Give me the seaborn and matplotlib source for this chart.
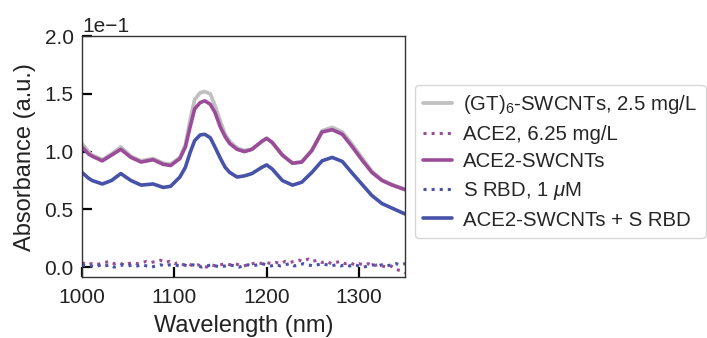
import numpy as np
import pandas as pd
import matplotlib
matplotlib.use("Agg")
import matplotlib.pyplot as plt
import seaborn as sns

# ---- data (absorbance, a.u.) ----
wl_solid = [1000, 1007, 1011, 1022, 1032, 1042, 1053, 1064, 1077, 1088, 1096, 1106,
            1112, 1117, 1122, 1128, 1133, 1139, 1144, 1150, 1155, 1160, 1168, 1176,
            1184, 1195, 1200, 1206, 1217, 1228, 1238, 1249, 1260, 1271, 1282, 1292,
            1303, 1314, 1325, 1336, 1350]

gt_swcnt = [0.107, 0.100, 0.097, 0.093, 0.098, 0.104, 0.096, 0.092, 0.094, 0.090, 0.089, 0.095,
            0.106, 0.127, 0.145, 0.151, 0.152, 0.150, 0.140, 0.126, 0.115, 0.109, 0.103, 0.101,
            0.102, 0.109, 0.1115, 0.108, 0.097, 0.090, 0.091, 0.101, 0.118, 0.121, 0.117, 0.107,
            0.095, 0.083, 0.0755, 0.0715, 0.0675]

ace2_swcnt = [0.104, 0.098, 0.096, 0.092, 0.097, 0.102, 0.095, 0.091, 0.093, 0.089, 0.088, 0.094,
              0.104, 0.121, 0.137, 0.1425, 0.144, 0.141, 0.134, 0.121, 0.113, 0.107, 0.102, 0.100,
              0.102, 0.109, 0.1115, 0.108, 0.097, 0.090, 0.091, 0.101, 0.117, 0.119, 0.115, 0.105,
              0.093, 0.082, 0.075, 0.071, 0.067]

ace2_swcnt_rbd = [0.082, 0.077, 0.075, 0.072, 0.075, 0.081, 0.075, 0.071, 0.072, 0.069, 0.070, 0.078,
                  0.0865, 0.099, 0.1095, 0.1145, 0.115, 0.112, 0.104, 0.094, 0.0865, 0.082, 0.078, 0.079,
                  0.081, 0.0865, 0.0885, 0.085, 0.075, 0.071, 0.0735, 0.082, 0.092, 0.095, 0.0915, 0.082,
                  0.072, 0.062, 0.055, 0.051, 0.046]

wl_dot = list(range(1000, 1351, 5))

ace2_only = [0.004, 0.002, 0.003, 0.002, 0.003, 0.004, 0.005, 0.003, 0.004, 0.002,
             0.003, 0.004, 0.003, 0.004, 0.005, 0.004, 0.005, 0.006, 0.004, 0.005,
             0.003, 0.004, 0.002, 0.003, 0.001, 0.002, 0.001, 0.000, 0.002, 0.001,
             0.002, 0.003, 0.002, 0.003, 0.002, 0.001, 0.002, 0.003, 0.004, 0.003,
             0.004, 0.003, 0.004, 0.003, 0.005, 0.004, 0.005, 0.006, 0.005, 0.007,
             0.005, 0.006, 0.004, 0.005, 0.003, 0.004, 0.005, 0.003, 0.004, 0.002,
             0.003, 0.002, 0.003, 0.001, 0.002, 0.001, 0.000, 0.001, -0.002, -0.003,
             -0.005]

srbd_only = [0.002, 0.001, 0.001, 0.000, 0.002, 0.001, 0.002, 0.000, 0.001, 0.002,
             0.001, 0.002, 0.001, 0.002, 0.001, 0.000, 0.001, 0.002, 0.001, 0.002,
             0.002, 0.001, 0.002, 0.001, 0.002, 0.001, 0.000, 0.001, 0.002, 0.001,
             0.000, 0.001, 0.002, 0.001, 0.000, 0.001, 0.002, 0.001, 0.002, 0.003,
             0.002, 0.001, 0.002, 0.001, 0.002, 0.003, 0.001, 0.002, 0.003, 0.002,
             0.001, 0.002, 0.003, 0.002, 0.001, 0.002, 0.001, 0.002, 0.001, 0.002,
             0.001, 0.000, 0.001, 0.002, 0.001, 0.002, 0.001, 0.002, 0.003, 0.002,
             0.003]

labels = ["(GT)$_6$-SWCNTs, 2.5 mg/L", "ACE2, 6.25 mg/L", "ACE2-SWCNTs",
          "S RBD, 1 $\\mu$M", "ACE2-SWCNTs + S RBD"]

# ---- style ----
sns.set_theme(style="ticks")
plt.rcParams["font.family"] = ["Liberation Sans", "DejaVu Sans"]
plt.rcParams["mathtext.fontset"] = "custom"
plt.rcParams["mathtext.rm"] = "Liberation Sans"
plt.rcParams["mathtext.it"] = "Liberation Sans:italic"
plt.rcParams["axes.unicode_minus"] = True

gray = "#c0c0c0"
purple = "#9b4c98"
blue = "#4653a8"

fig = plt.figure(figsize=(7.07, 3.38), dpi=100)
ax = fig.add_axes([0.116, 0.180, 0.457, 0.713])

sns.lineplot(x=wl_solid, y=gt_swcnt, ax=ax, color=gray, lw=2.7, label=labels[0])
sns.lineplot(x=wl_dot, y=ace2_only, ax=ax, color=purple, lw=2.2, linestyle=":", label=labels[1])
sns.lineplot(x=wl_solid, y=ace2_swcnt, ax=ax, color=purple, lw=2.6, label=labels[2])
sns.lineplot(x=wl_dot, y=srbd_only, ax=ax, color=blue, lw=2.2, linestyle=":", label=labels[3])
sns.lineplot(x=wl_solid, y=ace2_swcnt_rbd, ax=ax, color=blue, lw=2.6, label=labels[4])

ax.set_xlim(1000, 1350)
ax.set_ylim(-0.0087, 0.2)
ax.set_xticks([1000, 1100, 1200, 1300])
ax.set_yticks([0.0, 0.05, 0.10, 0.15, 0.20])
ax.ticklabel_format(axis="y", style="sci", scilimits=(0, 0))
ax.yaxis.get_offset_text().set_fontsize(15)
ax.yaxis.get_offset_text().set_color("#222222")

ax.tick_params(axis="both", direction="in", length=7.5, width=1.6, colors="black",
               labelsize=15, pad=6, labelcolor="#222222")
ax.tick_params(axis="x", pad=8)
for s in ax.spines.values():
    s.set_color("#333333")
    s.set_linewidth(1.0)

ax.set_xlabel("Wavelength (nm)", fontsize=17, labelpad=5.5, color="#222222")
ax.set_ylabel("Absorbance (a.u.)", fontsize=17, labelpad=6, color="#222222")

leg = ax.legend(loc="center left", bbox_to_anchor=(1.0, 0.48), borderaxespad=0.5,
                fontsize=14.7, handlelength=1.4, handletextpad=0.55, labelspacing=0.42,
                borderpad=0.4, frameon=True, fancybox=True)
leg.get_frame().set_edgecolor("#cccccc")

fig.savefig("out.png", dpi=100)
